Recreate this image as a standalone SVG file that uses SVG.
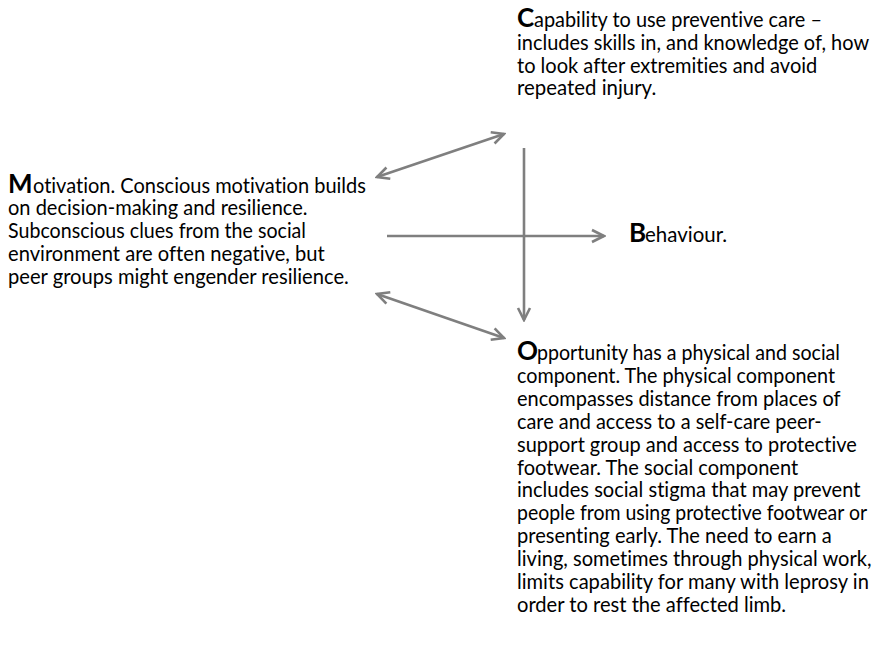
<svg xmlns="http://www.w3.org/2000/svg" width="876" height="654" viewBox="0 0 876 654">
<defs>
<style>
.t{font-family:Lato,Carlito,"Liberation Sans",sans-serif;font-size:20.4px;fill:#000;font-variant-ligatures:none;font-feature-settings:"liga" 0}
.b{font-weight:bold;font-size:26px}
.c{stroke:#7f7f7f;stroke-width:2.6;fill:none}
</style>
<marker id="ah" markerUnits="userSpaceOnUse" markerWidth="16" markerHeight="16" viewBox="-14 -8 16 16" refX="0" refY="0" orient="auto-start-reverse">
<path d="M-12,-6 L0,0 L-12,6" fill="none" stroke="#7f7f7f" stroke-width="2.6"/>
</marker>
</defs>
<rect width="876" height="654" fill="#fff"/>
<g id="connectors">
<line class="c" x1="377" y1="177" x2="504" y2="134" marker-start="url(#ah)" marker-end="url(#ah)"/>
<line class="c" x1="524" y1="148" x2="524" y2="320" marker-end="url(#ah)"/>
<line class="c" x1="387" y1="236" x2="604" y2="236" marker-end="url(#ah)"/>
<line class="c" x1="377" y1="294" x2="504" y2="338" marker-start="url(#ah)" marker-end="url(#ah)"/>
</g>
<g id="node-capability">
<text class="t" y="27"><tspan class="b" x="517">C</tspan><tspan x="534" textLength="288" lengthAdjust="spacingAndGlyphs">apability to use preventive care –</tspan></text>
<text class="t" x="517" y="49.75" textLength="352.1" lengthAdjust="spacingAndGlyphs">includes skills in, and knowledge of, how</text>
<text class="t" x="517" y="72.5" textLength="300.3" lengthAdjust="spacingAndGlyphs">to look after extremities and avoid</text>
<text class="t" x="517" y="95.25" textLength="139.2" lengthAdjust="spacingAndGlyphs">repeated injury.</text>
</g>
<g id="node-motivation">
<text class="t" y="192.5"><tspan class="b" x="8">M</tspan><tspan x="33" textLength="332.9" lengthAdjust="spacingAndGlyphs">otivation. Conscious motivation builds</tspan></text>
<text class="t" x="8" y="215.25" textLength="299.5" lengthAdjust="spacingAndGlyphs">on decision-making and resilience.</text>
<text class="t" x="8" y="238" textLength="298" lengthAdjust="spacingAndGlyphs">Subconscious clues from the social</text>
<text class="t" x="8" y="260.75" textLength="316.8" lengthAdjust="spacingAndGlyphs">environment are often negative, but</text>
<text class="t" x="8" y="283.5" textLength="340.8" lengthAdjust="spacingAndGlyphs">peer groups might engender resilience.</text>
</g>
<g id="node-behaviour">
<text class="t" y="242"><tspan class="b" x="629">B</tspan><tspan x="645" textLength="82.1" lengthAdjust="spacingAndGlyphs">ehaviour.</tspan></text>
</g>
<g id="node-opportunity">
<text class="t" y="360"><tspan class="b" x="517">O</tspan><tspan x="537" textLength="303" lengthAdjust="spacingAndGlyphs">pportunity has a physical and social</tspan></text>
<text class="t" x="517" y="382.9" textLength="318" lengthAdjust="spacingAndGlyphs">component. The physical component</text>
<text class="t" x="517" y="405.8" textLength="323.5" lengthAdjust="spacingAndGlyphs">encompasses distance from places of</text>
<text class="t" x="517" y="428.7" textLength="304.6" lengthAdjust="spacingAndGlyphs">care and access to a self-care peer-</text>
<text class="t" x="517" y="451.6" textLength="339.7" lengthAdjust="spacingAndGlyphs">support group and access to protective</text>
<text class="t" x="517" y="474.5" textLength="281.2" lengthAdjust="spacingAndGlyphs">footwear. The social component</text>
<text class="t" x="517" y="497.4" textLength="343.4" lengthAdjust="spacingAndGlyphs">includes social stigma that may prevent</text>
<text class="t" x="517" y="520.3" textLength="350" lengthAdjust="spacingAndGlyphs">people from using protective footwear or</text>
<text class="t" x="517" y="543.2" textLength="314.8" lengthAdjust="spacingAndGlyphs">presenting early. The need to earn a</text>
<text class="t" x="517" y="566.1" textLength="354.5" lengthAdjust="spacingAndGlyphs">living, sometimes through physical work,</text>
<text class="t" x="517" y="589" textLength="351.9" lengthAdjust="spacingAndGlyphs">limits capability for many with leprosy in</text>
<text class="t" x="517" y="611.9" textLength="269.1" lengthAdjust="spacingAndGlyphs">order to rest the affected limb.</text>
</g>
</svg>
